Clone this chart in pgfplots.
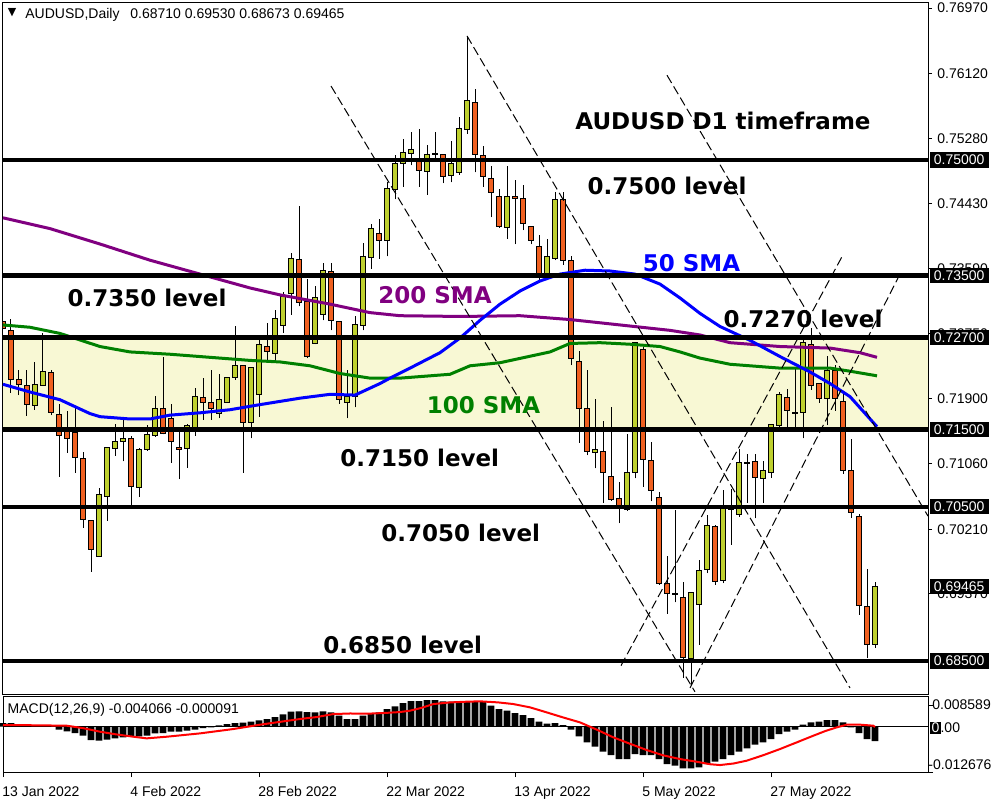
\documentclass[border=0pt]{standalone}
\usepackage{fontspec}
\setmainfont{Liberation Sans}
\newfontfamily\dejavu{DejaVu Sans}
\usepackage{pgfplots}
\usepackage{pgfplotstable}
\pgfplotsset{compat=1.18}

\definecolor{bull}{RGB}{190,208,46}
\definecolor{bear}{RGB}{240,96,32}
\definecolor{zone}{RGB}{248,248,212}
\definecolor{smapurple}{RGB}{128,0,128}
\definecolor{smagreen}{RGB}{0,128,0}
\definecolor{smablue}{RGB}{0,0,255}
\newcommand\bigfont{\dejavu\bfseries\fontsize{11.5}{13}\selectfont}

% daily candles, bar index from 13 Jan 2022
\pgfplotstableread{
k open high low close
0 0.7290 0.7314 0.7276 0.7282
1 0.7279 0.7294 0.7198 0.7215
2 0.7215 0.7228 0.7195 0.7209
3 0.7208 0.7228 0.7168 0.7183
4 0.7181 0.7238 0.7176 0.7209
5 0.7207 0.7276 0.7207 0.7225
6 0.7224 0.7228 0.7169 0.7173
7 0.7170 0.7183 0.7089 0.7142
8 0.7150 0.7174 0.7120 0.7139
9 0.7147 0.7178 0.7094 0.7114
10 0.7113 0.7121 0.7023 0.7033
11 0.7032 0.7033 0.6966 0.6995
12 0.6986 0.7075 0.6985 0.7066
13 0.7064 0.7128 0.7032 0.7127
14 0.7126 0.7158 0.7116 0.7135
15 0.7135 0.7167 0.7109 0.7139
16 0.7139 0.7142 0.7052 0.7077
17 0.7075 0.7127 0.7063 0.7125
18 0.7124 0.7156 0.7123 0.7144
19 0.7142 0.7194 0.7141 0.7178
20 0.7178 0.7245 0.7144 0.7145
21 0.7164 0.7184 0.7107 0.7135
22 0.7127 0.7151 0.7086 0.7125
23 0.7126 0.7157 0.7101 0.7156
24 0.7152 0.7204 0.7142 0.7193
25 0.7192 0.7217 0.7163 0.7186
26 0.7186 0.7228 0.7163 0.7177
27 0.7171 0.7222 0.7165 0.7189
28 0.7186 0.7219 0.7185 0.7218
29 0.7218 0.7284 0.7215 0.7233
30 0.7233 0.7234 0.7094 0.7160
31 0.7160 0.7232 0.7139 0.7231
32 0.7196 0.7266 0.7167 0.7261
33 0.7258 0.7288 0.7241 0.7251
34 0.7249 0.7305 0.7241 0.7295
35 0.7285 0.7329 0.7276 0.7323
36 0.7327 0.7380 0.7299 0.7372
37 0.7371 0.7440 0.7310 0.7315
38 0.7316 0.7346 0.7243 0.7245
39 0.7262 0.7336 0.7261 0.7321
40 0.7299 0.7366 0.7292 0.7357
41 0.7355 0.7366 0.7279 0.7292
42 0.7290 0.7291 0.7184 0.7189
43 0.7186 0.7228 0.7165 0.7193
44 0.7193 0.7297 0.7179 0.7287
45 0.7285 0.7392 0.7279 0.7375
46 0.7374 0.7417 0.7359 0.7411
47 0.7405 0.7423 0.7372 0.7395
48 0.7396 0.7471 0.7375 0.7463
49 0.7462 0.7506 0.7449 0.7496
50 0.7495 0.7527 0.7465 0.7510
51 0.7508 0.7536 0.7493 0.7514
52 0.7502 0.7540 0.7465 0.7487
53 0.7485 0.7519 0.7455 0.7507
54 0.7507 0.7536 0.7498 0.7508
55 0.7507 0.7508 0.7470 0.7479
56 0.7480 0.7525 0.7471 0.7495
57 0.7484 0.7556 0.7481 0.7541
58 0.7540 0.7661 0.7534 0.7577
59 0.7575 0.7592 0.7484 0.7507
60 0.7506 0.7518 0.7465 0.7478
61 0.7476 0.7492 0.7426 0.7458
62 0.7453 0.7463 0.7412 0.7414
63 0.7413 0.7492 0.7398 0.7453
64 0.7453 0.7474 0.7391 0.7450
65 0.7450 0.7468 0.7409 0.7417
66 0.7414 0.7415 0.7391 0.7395
67 0.7388 0.7403 0.7344 0.7347
68 0.7349 0.7398 0.7346 0.7375
69 0.7372 0.7458 0.7370 0.7449
70 0.7449 0.7458 0.7364 0.7370
71 0.7369 0.7375 0.7234 0.7243
72 0.7239 0.7252 0.7133 0.7177
73 0.7177 0.7228 0.7117 0.7122
74 0.7120 0.7190 0.7100 0.7125
75 0.7122 0.7161 0.7055 0.7095
76 0.7090 0.7179 0.7058 0.7059
77 0.7061 0.7082 0.7029 0.7052
78 0.7046 0.7145 0.7045 0.7095
79 0.7094 0.7264 0.7087 0.7263
80 0.7254 0.7258 0.7076 0.7111
81 0.7110 0.7134 0.7057 0.7071
82 0.7062 0.7069 0.6949 0.6950
83 0.6950 0.6986 0.6911 0.6937
84 0.6937 0.7046 0.6926 0.6936
85 0.6933 0.6952 0.6828 0.6854
86 0.6853 0.6940 0.6819 0.6939
87 0.6923 0.6981 0.6871 0.6968
88 0.6969 0.7040 0.6964 0.7026
89 0.7025 0.7026 0.6949 0.6953
90 0.6955 0.7072 0.6951 0.7048
91 0.7047 0.7073 0.7001 0.7046
92 0.7040 0.7125 0.7037 0.7107
93 0.7108 0.7119 0.7055 0.7106
94 0.7109 0.7119 0.7035 0.7088
95 0.7087 0.7109 0.7055 0.7097
96 0.7094 0.7158 0.7088 0.7157
97 0.7155 0.7199 0.7154 0.7196
98 0.7192 0.7203 0.7153 0.7175
99 0.7171 0.7230 0.7154 0.7173
100 0.7173 0.7266 0.7139 0.7263
101 0.7261 0.7282 0.7202 0.7207
102 0.7210 0.7211 0.7185 0.7191
103 0.7191 0.7246 0.7156 0.7227
104 0.7227 0.7234 0.7175 0.7190
105 0.7187 0.7197 0.7093 0.7097
106 0.7097 0.7138 0.7036 0.7043
107 0.7037 0.7041 0.6910 0.6922
108 0.6921 0.6970 0.6854 0.6872
109 0.68710 0.69530 0.68673 0.69465
}\candles

\pgfplotstableread{
k v
0 0.7425
5.875 0.7411
12.125 0.7391
18.375 0.7370
24.625 0.7352
30.875 0.7334
34.625 0.7325
40.875 0.7313
45.875 0.7302
49.625 0.7298
57.125 0.7297
64.625 0.7298
70.875 0.7293
77.125 0.7286
83.375 0.7279
87.125 0.7273
90.875 0.7263
97.125 0.7258
103.375 0.7256
107.125 0.7250
109.25 0.7244
}\smaC

\pgfplotstableread{
k v
0 0.7286
3.375 0.7283
7.125 0.7275
12.125 0.7258
15.875 0.7251
20.875 0.7248
24.625 0.7245
30.875 0.7240
34.625 0.7238
38.375 0.7233
42.125 0.7223
45.875 0.7217
49.625 0.7217
53.375 0.7220
55.875 0.7222
58.375 0.7233
62.125 0.7237
68.375 0.7251
70.875 0.7262
74.625 0.7263
78.375 0.7261
82.125 0.7258
84.625 0.7251
87.125 0.7243
90.875 0.7235
97.125 0.7230
103.375 0.7230
105.875 0.7226
109.25 0.7220
}\smaB

\pgfplotstableread{
k v
0 0.7209
3.375 0.7199
7.125 0.7189
10.875 0.7171
12.125 0.7167
15.875 0.7164
18.375 0.7164
20.875 0.7169
24.625 0.7172
28.375 0.7176
31.75 0.7182
37.125 0.7191
40.875 0.7196
44 0.7195
47.125 0.7210
48.375 0.7217
50.875 0.7230
54.625 0.7250
57.125 0.7269
59.625 0.7292
62.125 0.7313
64.625 0.7330
67.125 0.7343
69.625 0.7352
72.75 0.7357
75.875 0.7356
79 0.7352
82.125 0.7339
84.625 0.7321
87.125 0.7301
89.625 0.7284
93.375 0.7266
97.125 0.7245
100.875 0.7225
103.375 0.7210
105.875 0.7193
109.25 0.7154
}\smaA

\pgfplotstableread{
k v
0 0.00103
1 0.00103
2 0.00075
3 0.00056
4 0.00037
5 0.00019
6 0.0001
7 -0.00084
8 -0.00131
9 -0.00177
10 -0.00252
11 -0.00373
12 -0.00392
13 -0.00364
14 -0.00326
15 -0.00298
16 -0.0027
17 -0.0027
18 -0.00252
19 -0.00187
20 -0.00177
21 -0.0014
22 -0.0014
23 -0.00112
24 -0.00084
25 -0.00037
26 -0.00019
27 0.0004
28 0.00075
29 0.00103
30 0.00112
31 0.0014
32 0.00177
33 0.00215
34 0.0027
35 0.00345
36 0.0042
37 0.00429
38 0.0041
39 0.00401
40 0.00429
41 0.00401
42 0.00308
43 0.00215
44 0.00215
45 0.00308
46 0.00354
47 0.00401
48 0.00494
49 0.00569
50 0.00662
51 0.00718
52 0.00718
53 0.00746
54 0.00746
55 0.00709
56 0.007
57 0.007
58 0.00718
59 0.007
60 0.0071
61 0.00588
62 0.00494
63 0.00448
64 0.00382
65 0.00326
66 0.00242
67 0.0014
68 0.00084
69 0.00103
70 0.00047
71 -0.00084
72 -0.0027
73 -0.00438
74 -0.0056
75 -0.007
76 -0.00793
77 -0.00905
78 -0.00905
79 -0.00765
80 -0.00793
81 -0.00793
82 -0.00905
83 -0.01045
84 -0.01091
85 -0.01166
86 -0.01166
87 -0.01138
88 -0.01045
89 -0.00979
90 -0.00905
91 -0.00793
92 -0.007
93 -0.00606
94 -0.00504
95 -0.00438
96 -0.00345
97 -0.00205
98 -0.0014
99 -0.00084
100 0.00056
101 0.00121
102 0.0014
103 0.00187
104 0.00187
105 0.00121
106 -0.00019
107 -0.00177
108 -0.00345
109 -0.004066
}\macd

\pgfplotstableread{
k v
0 0.00047
4 0.0004
7.96 0.00028
10 -0.0004
12.125 -0.0014
14 -0.0021
16.29 -0.0028
17.96 -0.00326
20.46 -0.0028
24.625 -0.00187
28.79 -0.00065
32.125 0.00056
35.04 0.00149
37.125 0.00215
39.2 0.0027
41.29 0.00354
43.4 0.0037
45.46 0.00364
47.54 0.00382
49.6 0.0041
50.875 0.00448
52.2 0.0052
53.79 0.00634
55.9 0.0068
57.96 0.0070
59.625 0.0071
61.9 0.0068
63.79 0.00634
65.9 0.0054
67.96 0.00401
70 0.0026
72.125 0.00121
74.2 -0.0008
76.29 -0.00298
78.4 -0.0048
80.46 -0.00653
82.5 -0.0080
84.625 -0.00905
86.7 -0.0098
88.4 -0.0105
89.625 -0.01073
91.3 -0.0103
92.96 -0.00951
95 -0.0080
97.125 -0.00625
99.2 -0.0044
101.29 -0.00252
102.8 -0.0012
104.21 -0.00019
105.46 0.00056
107.2 0.00056
108.79 0.00028
109 -0.00009
}\signal

\begin{document}
\begin{tikzpicture}[font=\fontsize{7}{8.4}\selectfont]
\path[use as bounding box] (0,0) rectangle (500pt,400pt);
\pgfplotsset{panel/.style={at={(1.5pt,53pt)}, anchor=south west, scale only axis,
  width=462.5pt, height=346pt, xmin=0, xmax=115.625, ymin=0.680718, ymax=0.770499},
  chan/.style={black, line width=0.5pt, dash pattern=on 4.5pt off 2pt, mark=none},
  level/.style={black, line width=2.3pt, solid, mark=none}}

% background: frame, price scale, zone, wicks
\begin{axis}[panel, axis on top, axis line style={line width=0.5pt},
  xtick=\empty,
  ytick={0.7697,0.7612,0.7528,0.7443,0.7359,0.7275,0.7190,0.7106,0.7021,0.6937},
  yticklabels={0.76970,0.76120,0.75280,0.74430,0.73590,0.72750,0.71900,0.71060,0.70210,0.69370},
  ytick pos=right, yticklabel pos=right, tick align=outside, major tick length=2pt,
  tick style={black, line width=0.5pt},
  yticklabel style={anchor=west, inner sep=0pt, xshift=2.5pt}]
\addplot [draw=none, fill=zone] coordinates {(0,0.715) (115.625,0.715) (115.625,0.727) (0,0.727)};
\addplot [only marks, mark size=0pt, mark options={draw=none, fill=none},
  error bars/.cd, y dir=plus, y explicit, error mark=none,
  error bar style={black, solid, line width=0.5pt}]
  table [x=k, y=low, y error plus expr={\thisrow{high}-\thisrow{low}}] {\candles};
\end{axis}

% candle bodies
\begin{axis}[panel, hide axis, ybar stacked, bar width=2.5pt]
\addplot [draw=none, fill=none] table [x=k, y expr={min(\thisrow{open},\thisrow{close})}] {\candles};
\addplot [draw=black, line width=0.5pt, fill=bull]
  table [x=k, y expr={(\thisrow{close}>\thisrow{open}) ? (\thisrow{close}-\thisrow{open}) : 0}] {\candles};
\addplot [draw=black, line width=0.5pt, fill=bear]
  table [x=k, y expr={(\thisrow{open}>\thisrow{close}) ? (\thisrow{open}-\thisrow{close}) : 0}] {\candles};
\end{axis}

% indicators, levels, channel lines, notes
\begin{axis}[panel, hide axis, clip=false]
\addplot [smapurple, line width=1.5pt, mark=none] table [x=k, y=v] {\smaC};
\addplot [smagreen, line width=1.5pt, mark=none] table [x=k, y=v] {\smaB};
\addplot [smablue, line width=1.5pt, mark=none] table [x=k, y=v] {\smaA};
\addplot [level] coordinates {(0,0.75) (115.625,0.75)};
\addplot [level] coordinates {(0,0.735) (115.625,0.735)};
\addplot [level] coordinates {(0,0.727) (115.625,0.727)};
\addplot [level] coordinates {(0,0.715) (115.625,0.715)};
\addplot [level] coordinates {(0,0.705) (115.625,0.705)};
\addplot [level] coordinates {(0,0.685) (115.625,0.685)};
\addplot [chan] coordinates {(58,0.7661) (105.875,0.6815)};
\addplot [chan] coordinates {(41,0.7596) (86.5,0.6810)};
\addplot [chan] coordinates {(83,0.7610) (115.625,0.7038)};
\addplot [chan] coordinates {(77.25,0.6844) (105,0.7377)};
\addplot [chan] coordinates {(85.875,0.6815) (111.875,0.7347)};

\node[font=\bigfont] at (axis cs:90,0.75506) {AUDUSD D1 timeframe};
\node[font=\bigfont] at (axis cs:83,0.74663) {0.7500 level};
\node[font=\bigfont] at (axis cs:18,0.73210) {0.7350 level};
\node[font=\bigfont, text=smapurple] at (axis cs:54,0.73249) {200 SMA};
\node[font=\bigfont, text=smablue] at (axis cs:86.06,0.73664) {50 SMA};
\node[font=\bigfont] at (axis cs:100,0.72937) {0.7270 level};
\node[font=\bigfont, text=smagreen] at (axis cs:60.06,0.71821) {100 SMA};
\node[font=\bigfont] at (axis cs:52.09,0.71140) {0.7150 level};
\node[font=\bigfont] at (axis cs:57.21,0.70161) {0.7050 level};
\node[font=\bigfont] at (axis cs:49.96,0.68715) {0.6850 level};

\node[inner sep=0pt, font=\dejavu\fontsize{5.5}{6}\selectfont] at (axis cs:1.125,0.76907) {▼};
\node[anchor=west, inner sep=0pt] at (axis cs:2.75,0.76888) {AUDUSD,Daily\hspace{0.5em} 0.68710 0.69530 0.68673 0.69465};

\pgfplotsinvokeforeach{0.75000,0.73500,0.72700,0.71500,0.70500,0.69465,0.68500}{
  \node[anchor=west, xshift=0.75pt, fill=black, text=white, inner xsep=2pt, inner ysep=1.3pt]
    at (axis cs:115.625,#1) {#1};
}
\end{axis}

% MACD panel
\begin{axis}[at={(1.5pt,14pt)}, anchor=south west, scale only axis, width=462.5pt, height=38pt,
  xmin=0, xmax=115.625, ymin=-0.012676, ymax=0.008589, clip=false,
  axis line style={line width=0.5pt}, tick style={black, line width=0.5pt},
  xtick={0,16,...,96},
  xticklabels={13 Jan 2022,4 Feb 2022,28 Feb 2022,22 Mar 2022,13 Apr 2022,5 May 2022,27 May 2022},
  xtick pos=bottom, tick align=outside, major tick length=2.5pt,
  xticklabel style={anchor=north west, inner sep=0pt, xshift=-0.5pt, yshift=-4.5pt},
  ytick={-0.012676,0.006071}, yticklabels={,}, ytick pos=right, scaled y ticks=false]
\addplot [ybar, bar width=3.3pt, fill=black, draw=none] table [x=k, y=v] {\macd};
\addplot [black, line width=0.5pt, mark=none] coordinates {(0,0) (115.625,0)};
\addplot [red, line width=1pt, mark=none] table [x=k, y=v] {\signal};
\node[anchor=west, inner sep=0pt] at (axis cs:0.54,0.004672) {MACD(12,26,9) -0.004066 -0.000091};
\node[anchor=west, inner sep=0pt, xshift=2pt] at (axis cs:115.625,0.006071) {0.008589};
\node[anchor=west, inner sep=0pt, xshift=1pt] at (axis cs:115.625,-0.000365)
  {\setlength{\fboxsep}{0.6pt}\colorbox{black}{\textcolor{white}{0}}.00};
\node[anchor=west, inner sep=0pt, xshift=0pt] at (axis cs:115.625,-0.010717) {-0.012676};
\end{axis}
\end{tikzpicture}
\end{document}
